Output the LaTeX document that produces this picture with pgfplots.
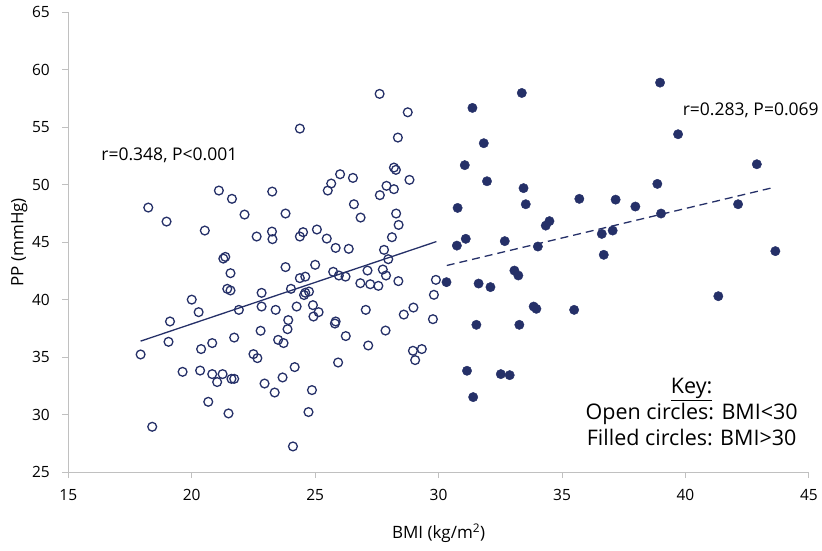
\documentclass[border=0pt]{standalone}
\usepackage{fontspec}
\setmainfont{Open Sans}
\usepackage{pgfplots}
\pgfplotsset{compat=1.18}
\definecolor{navy}{RGB}{37,48,104}
\definecolor{axisgray}{RGB}{192,192,192}

\begin{document}
\begin{tikzpicture}
\begin{axis}[
  scale only axis, width=741pt, height=460pt,
  xmin=15, xmax=45, ymin=25, ymax=65,
  xtick={15,20,...,45}, ytick={25,30,...,65},
  axis lines*=left,
  axis line style={axisgray, line width=1pt},
  tick align=outside, major tick length=6pt,
  tick style={axisgray, line width=1pt},
  /pgf/number format/assume math mode=true,
  tick label style={font=\fontsize{15.5}{18}\selectfont},
  xticklabel style={yshift=-8pt},
  yticklabel style={xshift=-9pt},
  xlabel={BMI (kg/m\textsuperscript{2})},
  ylabel={PP (mmHg)},
  label style={font=\fontsize{17}{20}\selectfont},
  xlabel style={at={(axis description cs:0.5,-0.133)}, anchor=center},
  ylabel style={at={(axis description cs:-0.066,0.5)}, anchor=center},
  clip=false,
]
% BMI < 30
\addplot[only marks, mark=o, mark size=4.4pt, navy, line width=1.3pt] coordinates {
(18.24,48.01) (18.98,46.79) (21.10,49.49) (21.63,48.77) (23.26,49.40)
(22.14,47.40) (23.80,47.49) (20.53,46.01) (22.63,45.49) (23.25,45.92)
(23.27,45.26) (24.38,45.49) (21.28,43.57) (21.36,43.72) (21.57,42.30)
(23.80,42.83) (24.38,41.87) (21.44,40.94) (21.57,40.80) (22.83,40.59)
(24.02,40.94) (20.00,40.00)
(20.28,38.91) (19.12,38.10) (21.91,39.11) (22.83,39.40) (23.40,39.11)
(24.25,39.40) (23.91,38.22) (23.88,37.43) (22.79,37.29) (19.06,36.33)
(17.93,35.23) (20.38,35.70) (20.83,36.22) (21.72,36.70) (23.50,36.50)
(23.72,36.22) (22.50,35.26) (22.66,34.91) (19.63,33.72) (20.34,33.83)
(20.83,33.52) (21.25,33.52) (21.03,32.83) (21.61,33.11) (21.72,33.11)
(22.95,32.70) (23.68,33.23) (23.36,31.92) (24.17,34.13) (20.67,31.11)
(21.49,30.10) (18.40,28.94) (24.10,27.23)
(27.61,57.90) (28.75,56.30) (24.38,54.88) (28.35,54.10) (28.19,51.49)
(28.27,51.29) (26.01,50.91) (26.53,50.59) (25.65,50.10) (25.51,49.49)
(28.82,50.42) (27.89,49.90) (28.19,49.61) (27.62,49.09) (26.57,48.30)
(26.84,47.14) (28.28,47.49) (28.38,46.50) (28.11,45.43) (27.79,44.33)
(27.96,43.52) (24.51,45.87) (25.07,46.10) (25.47,45.31) (25.83,44.50)
(26.36,44.42) (25.00,43.03) (24.60,42.00) (25.73,42.42) (25.96,42.10)
(26.23,42.00) (27.12,42.53) (27.74,42.62) (27.87,42.10) (26.83,41.43)
(27.23,41.34) (27.56,41.20) (28.37,41.61) (29.89,41.72) (29.81,40.42)
(24.55,40.40) (24.60,40.60) (24.75,40.70)
(24.91,39.52) (25.14,38.91) (24.93,38.53) (25.83,38.10) (25.80,37.92)
(26.24,36.83) (27.05,39.11) (27.15,36.01) (27.85,37.31) (28.59,38.70)
(28.98,39.31) (29.77,38.30) (28.96,35.55) (29.32,35.70) (29.05,34.74)
(25.93,34.53) (24.87,32.13) (24.73,30.22)
};
% BMI > 30
\addplot[only marks, mark=*, mark size=4.7pt, navy, line width=0.4pt] coordinates {
(33.37,57.98) (38.97,58.88) (31.37,56.68) (39.70,54.39) (31.83,53.61)
(42.89,51.78) (31.06,51.70) (31.96,50.30) (38.86,50.07) (33.44,49.70)
(30.77,47.98) (33.53,48.30) (35.70,48.77) (37.17,48.70) (37.97,48.10)
(39.01,47.49) (42.13,48.30) (34.49,46.83) (34.34,46.44) (31.10,45.29)
(30.74,44.70) (32.68,45.09) (34.02,44.62) (36.61,45.72) (37.05,46.01)
(36.69,43.90) (43.64,44.22) (30.32,41.52) (31.62,41.40) (32.10,41.09)
(33.07,42.53) (33.23,42.10) (41.33,40.30) (33.85,39.40) (33.96,39.20)
(35.49,39.11) (31.53,37.81) (33.27,37.81) (31.15,33.81) (32.52,33.52)
(32.88,33.43) (31.40,31.52)
};
% trend lines
\addplot[navy, line width=1.3pt] coordinates {(17.93,36.39) (29.91,45.05)};
\addplot[navy, line width=1.3pt, dash pattern=on 8pt off 5pt] coordinates {(30.33,42.97) (43.61,49.78)};
\node[anchor=west, font=\fontsize{17.5}{20}\selectfont] at (axis cs:16.20,52.53) {r=0.348, P<0.001};
\node[anchor=west, font=\fontsize{17.5}{20}\selectfont] at (axis cs:39.75,56.50) {r=0.283, P=0.069};
\node[align=center, font=\fontsize{21.5}{26}\selectfont] at (axis cs:40.25,30.25)
  {\underline{Key:}\\Open circles: BMI<30\\Filled circles: BMI>30};
\path (rel axis cs:-0.0922,-0.1696) (rel axis cs:1.0176,1.0267);
\end{axis}
\end{tikzpicture}
\end{document}
